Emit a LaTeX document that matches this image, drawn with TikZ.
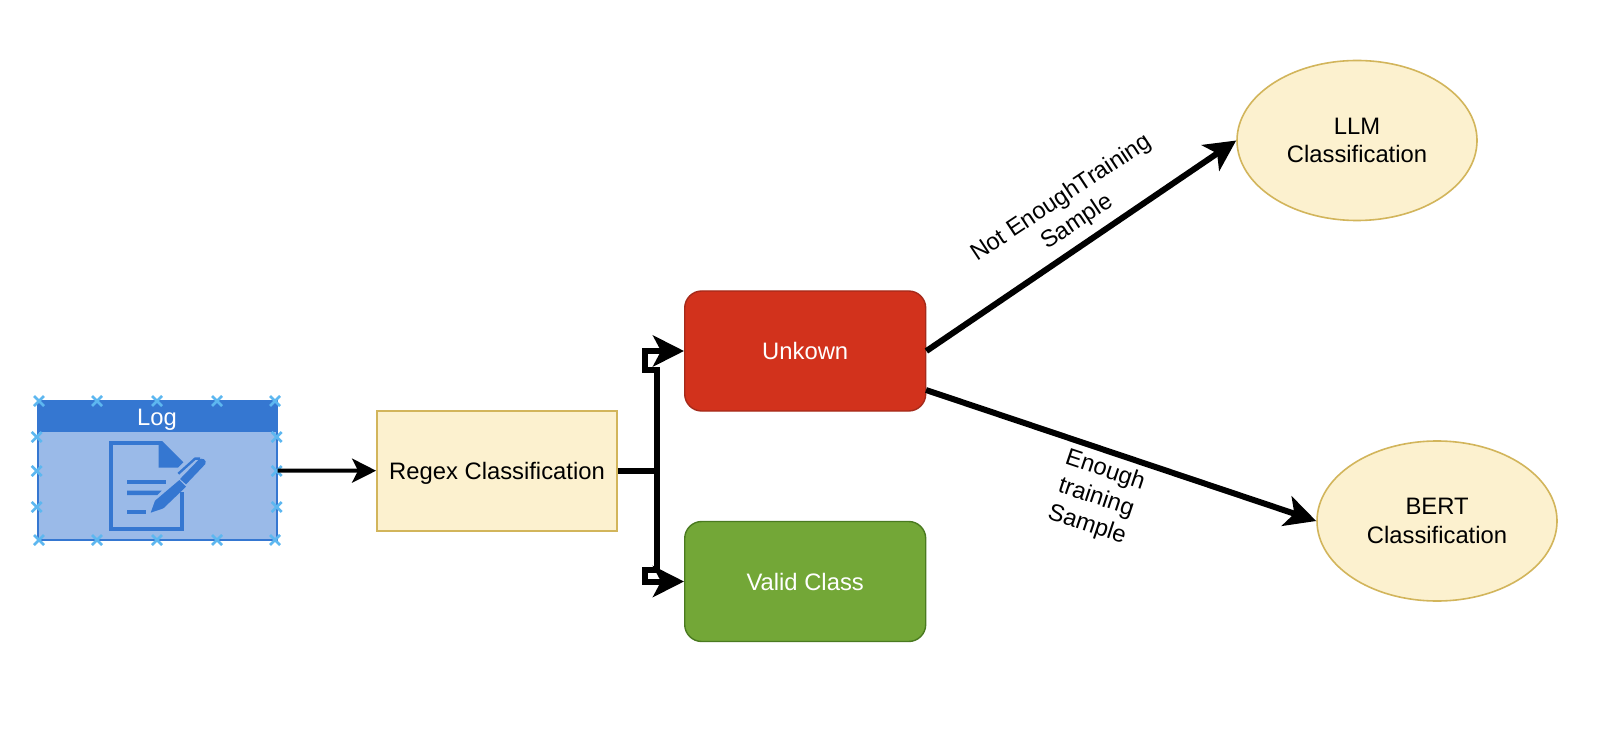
\documentclass[tikz,border=0pt]{standalone}
\usepackage{fontspec}
\setmainfont{Liberation Sans}
\usetikzlibrary{arrows.meta,shapes.geometric,positioning}
\definecolor{logdark}{HTML}{3577D1}
\definecolor{loglight}{HTML}{9ABAE8}
\definecolor{logx}{HTML}{5DB7F0}
\definecolor{yfill}{HTML}{FCF1CF}
\definecolor{ydraw}{HTML}{D2B55B}
\definecolor{rfill}{HTML}{D2321C}
\definecolor{rdraw}{HTML}{A52A1A}
\definecolor{gfill}{HTML}{73A737}
\definecolor{gdraw}{HTML}{4A7A20}
\tikzset{
  txt/.style={font=\fontsize{11.9}{14.3}\selectfont,align=center,text=black},
  yellowbox/.style={txt,rectangle,draw=ydraw,fill=yfill,line width=0.9pt,minimum width=120pt,minimum height=60pt,inner sep=0pt,text height=8.6pt,text depth=0pt},
  ovalnode/.style={txt,ellipse,draw=ydraw,fill=yfill,line width=0.8pt,minimum width=120pt,minimum height=80pt,inner sep=0pt},
  redbox/.style={txt,text=white,rectangle,rounded corners=8.5pt,draw=rdraw,fill=rfill,line width=0.7pt,minimum width=120.5pt,minimum height=60pt,inner sep=0pt},
  greenbox/.style={txt,text=white,rectangle,rounded corners=8.5pt,draw=gdraw,fill=gfill,line width=0.7pt,minimum width=120.5pt,minimum height=60pt,inner sep=0pt},
  thinarrow/.style={line width=2pt,-{Stealth[length=12pt,width=12pt,inset=3pt]}},
  thickarrow/.style={line width=3pt,-{Stealth[length=15.5pt,width=15.5pt,inset=4pt]}},
  edgelabel/.style={txt,inner sep=0pt},
  logbody/.style={rectangle,draw=logdark,fill=loglight,line width=1pt,minimum width=119.5pt,minimum height=69.5pt,inner sep=0pt},
  loghead/.style={txt,text=white,rectangle,fill=logdark,minimum width=120pt,minimum height=15.5pt,inner sep=0pt,text height=8.6pt,text depth=0pt},
  xmark/.style={draw=logx,line width=1.3pt},
  iconline/.style={draw=logdark,line width=2.1pt},
  iconfill/.style={fill=logdark},
}
\begin{document}
\begin{tikzpicture}[x=0.5pt,y=-0.5pt]
\useasboundingbox (0,0) rectangle (1604,732);
\fill[white] (0,0) rectangle (1604,732);

\node[logbody] (log) at (157,470.5) {};
\node[loghead] (loghd) at (157,416.5) {Log};

% icon, in 3x crop coordinates
\begin{scope}[shift={(20,375)},x=0.1667pt,y=-0.1667pt]
  \draw[iconline,miter limit=10] (422,203) -- (272,203) -- (272,462) -- (487,462) -- (487,350);
  \fill[iconfill] (416,198) -- (426,198) -- (490,262) -- (474,278) -- (416,278) -- cycle;
  \draw[iconline] (321,320) -- (438,320);
  \fill[iconfill] (321,347) -- (425,347) -- (412,360) -- (321,360) -- cycle;
  \draw[iconline] (321,410) -- (378,410);
  \fill[iconfill] (392,413) -- (405,377) -- (478,315) -- (498,335) -- (430,400) -- cycle;
  \fill[iconfill] (480,312) -- (535,255) .. controls (545,245) and (562,255) .. (556,267) -- (498,328) -- cycle;
  \draw[iconline,line width=1.2pt] (475,296) -- (525,251) -- (540,251);
\end{scope}

\foreach \px in {57,231,411,591,765}{
  \foreach \py in {78,495}{
    \draw[xmark] (20+\px/3-5,375+\py/3-5) -- (20+\px/3+5,375+\py/3+5)
                 (20+\px/3-5,375+\py/3+5) -- (20+\px/3+5,375+\py/3-5);
  }
}
\foreach \px in {50,770}{
  \foreach \py in {186,288,396}{
    \draw[xmark] (20+\px/3-5,375+\py/3-5) -- (20+\px/3+5,375+\py/3+5)
                 (20+\px/3-5,375+\py/3+5) -- (20+\px/3+5,375+\py/3-5);
  }
}

\node[yellowbox] (reg) at (497,470.7) {Regex Classification};
\node[redbox] (unk) at (805.2,351) {Unkown};
\node[greenbox] (val) at (805.2,581.5) {Valid Class};
\node[ovalnode] (llm) at (1357,140.5) {LLM\\Classification};
\node[ovalnode] (bert) at (1437,521) {BERT\\Classification};

\coordinate (trunk) at (656.7,470.7);
\coordinate (upa) at (656.7,370);
\coordinate (upb) at (645,370);
\coordinate (upc) at (645,351);
\coordinate (dna) at (656.7,570);
\coordinate (dnb) at (645,570);
\coordinate (dnc) at (645,581.5);
\coordinate (unkb) at (926,390);

\draw[thinarrow] (log.east) -- (reg.west);
\draw[thickarrow] (reg.east) -- (trunk) -- (upa) -- (upb) -- (upc) -- (unk.west);
\draw[thickarrow] (reg.east) -- (trunk) -- (dna) -- (dnb) -- (dnc) -- (val.west);
\draw[thickarrow] (unk.east) -- (llm.west);
\draw[thickarrow] (unkb) -- (bert.west);

\node[edgelabel,rotate=33.5] (lab1) at (1069.5,210.5) {Not EnoughTraining\\Sample};
\node[edgelabel,rotate=-18.5] (lab2) at (1096,498) {Enough\\training\\Sample};
\end{tikzpicture}
\end{document}
